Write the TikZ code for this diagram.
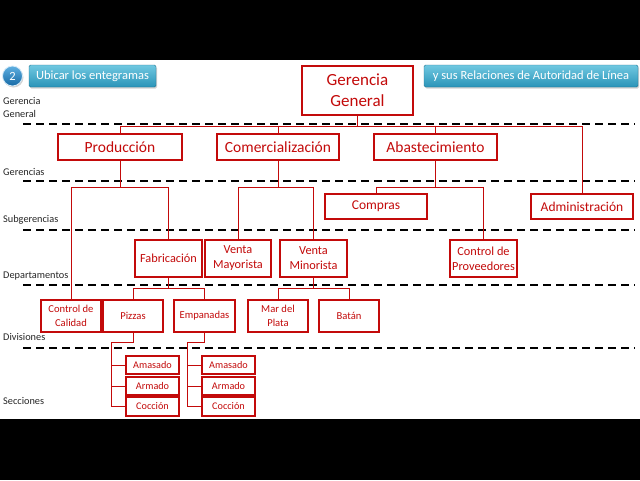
\documentclass[tikz,border=0pt]{standalone}
\usepackage{fontspec}
\setmainfont{Carlito}
\usetikzlibrary{shadows}
\definecolor{orgred}{RGB}{195,10,10}
\definecolor{tealtop}{RGB}{112,200,225}
\definecolor{tealbot}{RGB}{42,148,184}
\definecolor{balltop}{RGB}{95,175,225}
\definecolor{ballbot}{RGB}{22,105,165}
\tikzset{
  orgbox/.style={draw=orgred, line width=1.3pt, fill=white, text=orgred, inner sep=0pt, align=center},
  fA/.style={font=\fontsize{17}{21}\selectfont},
  fB/.style={font=\fontsize{15.5}{18}\selectfont},
  fC/.style={font=\fontsize{13.5}{16}\selectfont},
  fD/.style={font=\fontsize{12.3}{15}\selectfont},
  fE/.style={font=\fontsize{10.6}{13.5}\selectfont},
  fF/.style={font=\fontsize{10.2}{12}\selectfont},
  conn/.style={draw=orgred, line width=1pt},
  lvline/.style={draw=black, line width=2pt, dash pattern=on 8pt off 5pt},
  lvlab/.style={anchor=west, inner sep=0pt, text=black!85, align=left, font=\fontsize{10.3}{13}\selectfont},
  banner/.style={rounded corners=1.5pt, top color=tealtop, bottom color=tealbot, draw=tealbot!80!black, line width=0.4pt, text=white, inner sep=0pt, font=\fontsize{12.5}{15}\selectfont, drop shadow={opacity=0.35, shadow xshift=1pt, shadow yshift=-1.5pt}},
}
\begin{document}
\begin{tikzpicture}[x=1pt,y=-1pt]
\useasboundingbox (0,0) rectangle (640,480);
\fill[white] (0,0) rectangle (640,480);
\fill[black] (0,0) rectangle (640,60);
\fill[black] (0,419) rectangle (640,480);

% banners
\node[circle, minimum size=20pt, inner sep=0pt, top color=balltop, bottom color=ballbot, draw=white!75!balltop, line width=0.8pt, text=white, font=\fontsize{12.5}{15}\selectfont, drop shadow={opacity=0.35, shadow xshift=1pt, shadow yshift=-1.5pt}] (num) at (12.5,76) {2};
\node[banner, minimum width=127pt, minimum height=22pt] (ban1) at (92.5,76) {Ubicar los entegramas};
\node[banner, minimum width=214pt, minimum height=22pt] (ban2) at (531,76) {y sus Relaciones de Autoridad de Línea};

% level lines
\coordinate (L1) at (23,124);
\coordinate (L2) at (23,181);
\coordinate (L3) at (23,230);
\coordinate (L4) at (23,285);
\coordinate (L5) at (23,348);
\foreach \c in {L1,L2,L3,L4,L5} \draw[lvline] (\c) -- ++(612,0);

% level labels
\node[lvlab] (lg) at (3,107.5) {Gerencia\\General};
\node[lvlab] (lgs) at (3,172) {Gerencias};
\node[lvlab] (lsg) at (3,220) {Subgerencias};
\node[lvlab] (ldp) at (3,276) {Departamentos};
\node[lvlab] (ldv) at (3,337) {Divisiones};
\node[lvlab] (lsc) at (3,401) {Secciones};

% boxes
\node[orgbox, fA, minimum width=111pt, minimum height=49pt] (gg) at (357.5,90.5) {Gerencia\\General};
\node[orgbox, fB, minimum width=124pt, minimum height=26pt] (prod) at (120,147) {Producción};
\node[orgbox, fB, minimum width=122pt, minimum height=26pt] (com) at (278,147) {Comercialización};
\node[orgbox, fB, minimum width=123pt, minimum height=26pt] (abas) at (435.5,147) {Abastecimiento};
\node[orgbox, fC, minimum width=102pt, minimum height=25pt] (compras) at (376,206.5) {Compras};
\node[orgbox, fC, minimum width=102pt, minimum height=25pt] (admin) at (582,206.5) {Administración};
\node[orgbox, fD, minimum width=67pt, minimum height=37pt] (fab) at (168.5,258.5) {Fabricación};
\node[orgbox, fD, minimum width=66pt, minimum height=37pt] (vmay) at (238,258.5) {Venta\\Mayorista};
\node[orgbox, fD, minimum width=67pt, minimum height=37pt] (vmin) at (313.5,258.5) {Venta\\Minorista};
\node[orgbox, fD, minimum width=67pt, minimum height=37pt] (cprov) at (483.5,258.5) {Control de\\Proveedores};
\node[orgbox, fE, minimum width=60pt, minimum height=32pt] (cal) at (71,316) {Control de\\Calidad};
\node[orgbox, fE, minimum width=60pt, minimum height=32pt] (piz) at (133,316) {Pizzas};
\node[orgbox, fE, minimum width=61pt, minimum height=32pt] (emp) at (204.5,316) {Empanadas};
\node[orgbox, fE, minimum width=60pt, minimum height=32pt] (mdp) at (278,316) {Mar del\\Plata};
\node[orgbox, fE, minimum width=60pt, minimum height=32pt] (bat) at (349,316) {Batán};
\node[orgbox, fF, minimum width=53pt, minimum height=18pt] (pam) at (152.5,365) {Amasado};
\node[orgbox, fF, minimum width=53pt, minimum height=18pt] (par) at (152.5,386) {Armado};
\node[orgbox, fF, minimum width=53pt, minimum height=19pt] (pco) at (152.5,406.5) {Cocción};
\node[orgbox, fF, minimum width=53pt, minimum height=18pt] (eam) at (228.5,365) {Amasado};
\node[orgbox, fF, minimum width=53pt, minimum height=18pt] (ear) at (228.5,386) {Armado};
\node[orgbox, fF, minimum width=53pt, minimum height=19pt] (eco) at (228.5,406.5) {Cocción};

% bus coordinates
\coordinate (b1) at (0,126);
\coordinate (b2) at (0,187);
\coordinate (b3) at (0,288.5);
\coordinate (pz) at (111,342);
\coordinate (ez) at (187,342);

% connectors
\draw[conn] (gg.south) -- (gg.south |- b1);
\draw[conn] (prod.north) |- (admin.north |- b1) -- (admin.north);
\draw[conn] (com.north) -- (com.north |- b1);
\draw[conn] (abas.north) -- (abas.north |- b1);

\draw[conn] (prod.south) -- (prod.south |- b2);
\draw[conn] (cal.north) |- (fab.north |- b2) -- (fab.north);
\draw[conn] (com.south) -- (com.south |- b2);
\draw[conn] (vmay.north) |- (vmin.north |- b2) -- (vmin.north);
\draw[conn] (abas.south) -- (abas.south |- b2);
\draw[conn] (compras.north) |- (cprov.north |- b2) -- (cprov.north);

\draw[conn] (fab.south) -- (fab.south |- b3);
\draw[conn] (piz.north) |- (emp.north |- b3) -- (emp.north);
\draw[conn] (vmin.south) -- (vmin.south |- b3);
\draw[conn] (mdp.north) |- (bat.north |- b3) -- (bat.north);

\draw[conn] (piz.south) |- (pz) |- (pco.west);
\draw[conn] (pam.west) -- (pam.west -| pz);
\draw[conn] (par.west) -- (par.west -| pz);
\draw[conn] (emp.south) |- (ez) |- (eco.west);
\draw[conn] (eam.west) -- (eam.west -| ez);
\draw[conn] (ear.west) -- (ear.west -| ez);
\end{tikzpicture}
\end{document}
